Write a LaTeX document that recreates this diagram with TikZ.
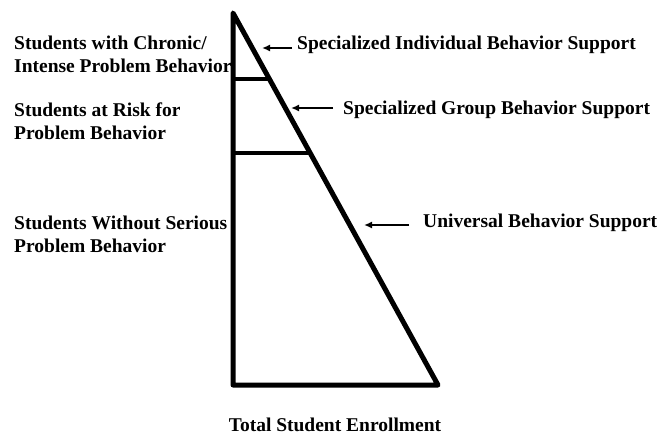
\documentclass[tikz,border=0pt]{standalone}
\usepackage{fontspec}
\setmainfont{Liberation Serif}
\usetikzlibrary{arrows.meta}

\begin{document}
\begin{tikzpicture}[x=1pt, y=-1pt,
    lbl/.style={font=\bfseries\fontsize{19.5}{23}\selectfont, inner sep=0pt, anchor=west, align=left},
    ptr/.style={-{Latex[length=8pt,width=7pt]}, line width=1.6pt}]
  \useasboundingbox (0,0) rectangle (672,436);

  % the triangle and its two tier lines
  \coordinate (top) at (233,13);
  \coordinate (bl) at (233,385);
  \coordinate (br) at (438,385);
  \draw[line width=5pt, line join=round] (top) -- (bl) -- (br) -- cycle;
  \path (top) -- (br) coordinate[pos=0.177] (a1) coordinate[pos=0.375] (a2);
  \draw[line width=4pt] (bl |- a1) -- (a1);
  \draw[line width=4pt] (bl |- a2) -- (a2);

  % student groups on the left
  \node[lbl] (chronic) at (14,54) {Students with Chronic/\\Intense Problem Behavior};
  \node[lbl] (risk) at (14,121.5) {Students at Risk for\\Problem Behavior};
  \node[lbl] (without) at (14,234.5) {Students Without Serious\\Problem Behavior};

  % supports on the right, each with its arrow
  \node[lbl] (indiv) at (297,45) {Specialized Individual Behavior Support};
  \node[lbl] (group) at (343,110) {Specialized Group Behavior Support};
  \node[lbl] (univ) at (423,223) {Universal Behavior Support};
  \coordinate (tipA) at (262,48);
  \coordinate (tipB) at (291,108);
  \coordinate (tipC) at (364,225);
  \draw[ptr] ([xshift=-5pt]indiv.west |- tipA) -- (tipA);
  \draw[ptr] ([xshift=-10pt]group.west |- tipB) -- (tipB);
  \draw[ptr] ([xshift=-14pt]univ.west |- tipC) -- (tipC);

  \node[lbl, anchor=center] (total) at (335,425) {Total Student Enrollment};
\end{tikzpicture}
\end{document}
